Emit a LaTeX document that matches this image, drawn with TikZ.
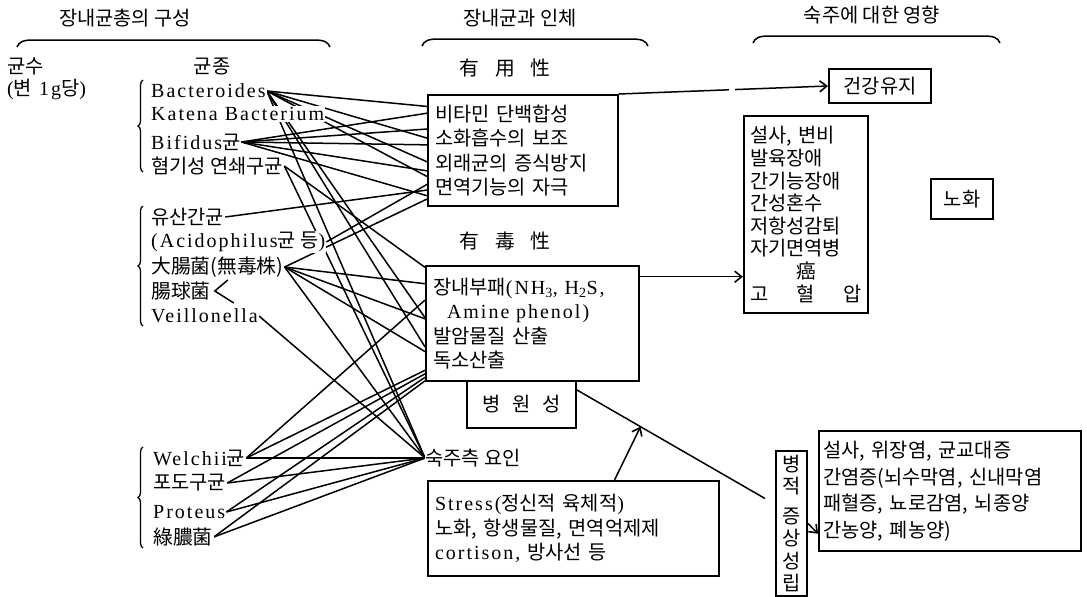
\documentclass[tikz,border=0pt]{standalone}
\usepackage{fontspec}
\setmainfont{Liberation Serif}[LetterSpace=10]
\newfontfamily\hgfont{Noto Sans CJK KR}[Scale=0.99]
\newcommand\hg[1]{{\hgfont #1}}
\usetikzlibrary{calc,backgrounds,arrows.meta,decorations.pathreplacing}

\begin{document}
\begin{tikzpicture}[x=1pt, y=-1pt,
    font=\fontsize{20}{24.5}\selectfont,
    lbl/.style={anchor=west, inner sep=1pt, fill=white},
    head/.style={inner sep=1pt},
    box/.style={draw, line width=2pt, inner xsep=7pt, align=left, anchor=north west},
    frame/.style={draw, line width=2pt, anchor=north west},
    link/.style={line width=1.5pt},
    grp/.style={decorate, decoration={brace, amplitude=5pt}, line width=1.3pt},
    >={Straight Barb[length=7pt, width=11pt, line width=1.6pt]}]
\useasboundingbox (0,0) rectangle (1087,597);

% headings
\node[head] (h1) at (125,18) {\hg{장내균총의 구성}};
\node[head] (h2) at (520,18) {\hg{장내균과 인체}};
\node[head] (h3) at (872,15) {\hg{숙주에 대한 영향}};
\foreach \a/\b/\y in {17/330/47, 422/648/46, 753/1000/43}
    \draw[line width=1.5pt] (\a,\y) .. controls (\a+2,\y-5) and (\a+6,\y-7) .. (\a+16,\y-7)
        -- (\b-16,\y-7) .. controls (\b-6,\y-7) and (\b-2,\y-5) .. (\b,\y);

% bacteria
\node[lbl] (gs) at (6,66) {\hg{균수}};
\node[lbl] (gsb) at (6,89) {(\hg{변} 1g\hg{당})};
\node[head] (gj) at (212,66) {\hg{균종}};

\node[lbl] (bac) at (150,91) {Bacteroides};
\node[lbl] (kat) at (150,114) {Katena Bacterium};
\node[lbl] (bif) at (150,142) {Bifidus\hg{균}};
\node[lbl] (hyo) at (150,166) {\hg{혐기성 연쇄구균}};

\node[lbl] (yus) at (150,217) {\hg{유산간균}};
\node[lbl] (aci) at (150,242) {(Acidophilus\hg{균 등})};
\node[lbl] (dj) at (150,267) {\hg{大腸菌(無毒株)}};
\node[lbl] (jg) at (150,291) {\hg{腸球菌}};
\node[lbl] (vei) at (150,316) {Veillonella};

\node[lbl] (wel) at (152,458) {Welchii\hg{균}};
\node[lbl] (pd) at (152,483) {\hg{포도구균}};
\node[lbl] (pro) at (152,512) {Proteus};
\node[lbl] (nok) at (152,537) {\hg{綠膿菌}};

\draw[grp] (143,172) -- (143,80);
\draw[grp] (143,326) -- (143,206);
\draw[grp] (143,548) -- (143,447);
\draw[link] ($(jg.east)+(16,-11)$) -- ($(jg.east)+(3,0)$) -- ($(jg.east)+(22,12)$);

% middle column
\node[head] (yu) at (505,68) {\hg{有\hspace{16pt}用\hspace{16pt}性}};
\node[box, minimum width=190pt, minimum height=111pt, text width=176pt] (hy) at (427,94)
    {\hgfont \mbox{비타민 단백합성}\\ \mbox{소화흡수의 보조}\\ \mbox{외래균의 증식방지}\\ \mbox{면역기능의 자극}};
\node[head] (yd) at (505,241) {\hg{有\hspace{16pt}毒\hspace{16pt}性}};
\node[box, minimum width=213pt, minimum height=115pt, text width=199pt] (yk) at (425,265)
    {\mbox{\hg{장내부패}(NH\textsubscript{3}, H\textsubscript{2}S,}\\ \hspace*{14pt}Amine phenol)\\
     \hgfont 발암물질 산출\\독소산출};
\node[anchor=north west, minimum width=109pt, minimum height=48pt, inner sep=0pt] (bw) at (467,380)
    {\hg{병\hspace{12pt}원\hspace{12pt}성}};
\draw[line width=2pt] (bw.north west) -- (bw.south west) -- (bw.south east) -- (bw.north east);
\node[lbl, inner sep=0pt] (sj) at (425,458) {\hg{숙주측 요인}};
\node[box, minimum width=291pt, minimum height=95pt, text width=277pt] (st) at (427,480)
    {\mbox{Stress(\hg{정신적 육체적})}\\ \mbox{\hg{노화, 항생물질, 면역억제제}}\\ cortison, \hg{방사선 등}};

% right column
\node[frame, minimum width=102pt, minimum height=34pt] (gk) at (828,68) {\hg{건강유지}};
\node[box, inner xsep=6pt, minimum width=124pt, minimum height=197pt, text width=112pt,
    font=\fontsize{20}{22.6}\selectfont] (sb) at (743,115)
    {\hgfont \mbox{설사, 변비}\\발육장애\\간기능장애\\간성혼수\\저항성감퇴\\자기면역병\\
     \makebox[112pt]{癌}\\ \makebox[112pt][s]{고\hfill 혈\hfill 압}};
\node[frame, minimum width=62pt, minimum height=40pt] (nh) at (930,178) {\hg{노화}};
\node[frame, minimum width=31pt, minimum height=145pt, inner sep=1pt, align=center,
    font=\fontsize{20}{22.5}\selectfont\hgfont] (pj) at (775,450)
    {병\\적\\[7pt]증\\상\\성\\립};
\node[box, inner xsep=4pt, minimum width=262pt, minimum height=120pt, text width=254pt,
    font=\fontsize{20}{26.5}\selectfont] (gb) at (818,430)
    {\hgfont \mbox{설사, 위장염, 균교대증}\\ \mbox{간염증(뇌수막염, 신내막염}\\
     \mbox{패혈증, 뇨로감염, 뇌종양}\\ \mbox{간농양, 폐농양)}};

% arrows
\draw[link, ->, dash pattern=on 110pt off 6pt] (hy.north east) -- (gk.west);
\coordinate (ya) at ($(yk.north east)!0.1!(yk.south east)$);
\draw[link, ->] (ya) -- (ya -| sb.west);
\coordinate (dg1) at ($(bw.north east)!0.2!(bw.south east)$);
\coordinate (dg2) at ($(pj.north west)!0.33!(pj.south west)+(-10,0)$);
\draw[link] (dg1) -- (dg2);
\draw[link, ->] ($(st.north west)!0.64!(st.north east)$) -- ($(dg1)!0.34!(dg2)$);
\draw[link, ->] (pj.east) -- ($(gb.north west)!0.85!(gb.south west)$);

% bacteria to functions
\begin{scope}[on background layer]
\foreach \s/\t/\f in {bac/hy/0.11, bac/hy/0.39, bac/hy/0.6, bac/hy/0.73, bac/yk/0.45,
        bac/yk/0.7, bif/hy/0.17, bif/hy/0.31, bif/hy/0.45, bif/hy/0.68, bif/hy/0.9,
        hyo/yk/0.02, yus/hy/0.85, aci/hy/0.8, dj/hy/0.93, dj/yk/0.16, dj/yk/0.46,
        dj/yk/0.74, wel/yk/0.3, wel/yk/0.9, pd/yk/0.93, pro/yk/0.96, nok/yk/0.99}
    \draw[link] (\s.east) -- ($(\t.north west)!\f!(\t.south west)$);
\foreach \s in {bac, hyo, dj, vei, wel, pd, pro, nok}
    \draw[link] (\s.east) -- (sj.west);
\end{scope}
\end{tikzpicture}
\end{document}
